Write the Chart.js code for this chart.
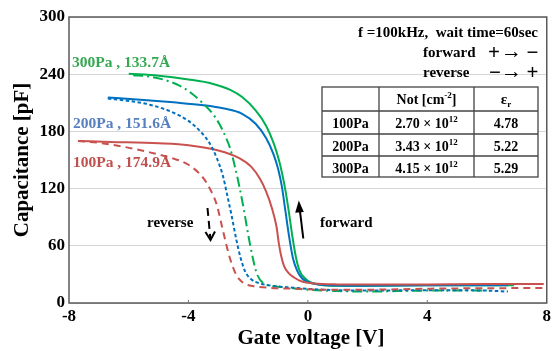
<!DOCTYPE html>
<html><head><meta charset="utf-8">
<script src="https://cdn.jsdelivr.net/npm/chart.js@4.4.1/dist/chart.umd.min.js"></script>
<style>html,body{margin:0;padding:0;background:#fff;}canvas{display:block;}</style>
</head><body>
<canvas id="c" width="554" height="351"></canvas>
<script>
// ---- data ----
const xTicks = [-8, -4, 0, 4, 8];
const yTicks = [0, 60, 120, 180, 240, 300];

// 100Pa forward (solid)
const fwd100V = [-7.7, -6.6, -5, -4, -3, -2.3, -1.9, -1.6, -1.4, -1.2, -1.05, -0.97, -0.9, -0.8, -0.65, -0.45, -0.2, 0.2, 1, 2, 4, 6, 7.9];
const fwd100C = [170, 169, 167.5, 165.5, 160, 152, 143, 130, 117, 99, 80, 62, 50, 39, 31.5, 26.5, 22.5, 20.5, 19.5, 19.3, 19.5, 19.8, 19.8];
// 100Pa reverse (dashed)
const rev100V = [-7.7, -7, -6.1, -5.3, -4.6, -4, -3.5, -3.25, -3.05, -2.86, -2.63, -2.45, -2.3, -2.1, -1.8, -1.3, -0.5, 0.5, 2, 4, 6, 7.9];
const rev100C = [170, 168, 163.5, 158, 152.5, 145, 131, 118, 103, 78, 49, 33, 25, 20, 17.5, 16, 15, 14, 14, 15, 15.5, 15.7];

// 200Pa forward (solid)
const fwd200V = [-6.7, -5.5, -4.5, -3.5, -2.8, -2.2, -1.75, -1.4, -1.15, -1.0, -0.87, -0.75, -0.62, -0.5, -0.36, -0.2, 0, 0.4, 1, 2, 4, 6, 6.7];
const fwd200C = [215.5, 213, 210.5, 207.5, 204, 198.5, 188, 173, 156, 141, 122, 96, 68, 47, 34, 26, 22, 19.5, 18.3, 18, 18.5, 18.5, 18.5];
// 200Pa reverse (short dash)
const rev200V = [-6.7, -6, -5.3, -4.6, -4, -3.6, -3.3, -3.05, -2.85, -2.7, -2.55, -2.4, -2.25, -2.1, -1.9, -1.6, -1.3, -0.5, 0.5, 2, 4, 6, 6.7];
const rev200C = [214.5, 212, 208, 201, 191, 180, 168, 152, 134, 113, 91, 67, 47, 33, 25, 20.5, 18.5, 16, 14, 13, 13.5, 13, 12];

// 300Pa forward (solid)
const fwd300V = [-6.0, -5, -4, -3.2, -2.6, -2.2, -1.75, -1.4, -1.15, -0.97, -0.85, -0.74, -0.63, -0.52, -0.4, -0.28, -0.1, 0.1, 0.4, 1, 2, 4, 6, 6.9];
const fwd300C = [240.5, 238.5, 234.5, 230, 223.5, 216, 202, 186, 168, 150, 134, 116, 94, 70, 48, 34, 26, 21.5, 19, 18, 18, 18.5, 18.5, 18.5];
// 300Pa reverse (dash-dot)
const rev300V = [-5.85, -5.3, -4.8, -4.3, -3.9, -3.5, -3.2, -2.95, -2.75, -2.6, -2.45, -2.3, -2.15, -2.0, -1.85, -1.7, -1.5, -1.2, -0.8, 0, 1, 2, 4, 6];
const rev300C = [239, 237.5, 234, 228, 220, 209, 199, 187, 174, 162, 144, 123, 99, 72, 48, 30, 21, 18, 16.5, 14, 12.5, 12, 13, 13];

const seriesLabels = ['100Pa , 174.9\u00C5', '200Pa , 151.6\u00C5', '300Pa , 133.7\u00C5'];
const tableRows = ['100Pa', '200Pa', '300Pa'];
const tableNot = ['2.70', '3.43', '4.15'];
const tableNotExp = ['12', '12', '12'];
const tableEps = ['4.78', '5.22', '5.29'];
const condText = 'f =100kHz,  wait time=60sec';
const xTitle = 'Gate voltage [V]';
const yTitle = 'Capacitance [pF]';

// ---- styling ----
const FONT = "'Liberation Serif','Times New Roman',serif";
const RED = '#c9524f', BLUE = '#0070c0', GREEN = '#00b050';
const zip = (v, c) => v.map((x, i) => ({x, y: c[i]}));

function ds(v, c, color, dash) {
  return {data: zip(v, c), borderColor: color, borderWidth: 2, borderDash: dash,
    pointRadius: 0, fill: false, cubicInterpolationMode: 'monotone'};
}

function supText(ctx, parts, cx, cy) {
  let w = 0;
  parts.forEach(p => { ctx.font = 'bold ' + p[1] + 'px ' + FONT; w += ctx.measureText(p[0]).width; });
  let x = cx - w / 2;
  ctx.textAlign = 'left';
  parts.forEach(p => { ctx.font = 'bold ' + p[1] + 'px ' + FONT; ctx.fillText(p[0], x, cy + p[2]); x += ctx.measureText(p[0]).width; });
}

const annot = {
  id: 'annot',
  afterDraw(chart) {
    const {ctx, chartArea: a, scales: {x, y}} = chart;
    ctx.save();
    // frame
    ctx.strokeStyle = '#5a5a5a'; ctx.lineWidth = 1.5;
    ctx.strokeRect(a.left, a.top, a.right - a.left, a.bottom - a.top);
    // small inner ticks
    ctx.lineWidth = 1; ctx.strokeStyle = '#777';
    xTicks.slice(1, -1).forEach(v => { const px = x.getPixelForValue(v); ctx.beginPath(); ctx.moveTo(px, a.bottom); ctx.lineTo(px, a.bottom - 3); ctx.stroke(); });

    // axis titles
    ctx.fillStyle = '#000'; ctx.textBaseline = 'middle'; ctx.textAlign = 'center';
    ctx.font = 'bold 21px ' + FONT;
    ctx.fillText(xTitle, 311, 339);
    ctx.save(); ctx.translate(23, 160); ctx.rotate(-Math.PI / 2); ctx.fillText(yTitle, 0, 0); ctx.restore();

    // series labels
    ctx.textBaseline = 'alphabetic'; ctx.textAlign = 'left';
    ctx.font = 'bold 15.5px ' + FONT;
    ctx.fillStyle = '#36a852'; ctx.fillText(seriesLabels[2], 72, 67);
    ctx.fillStyle = '#5680c0'; ctx.fillText(seriesLabels[1], 73, 127.5);
    ctx.fillStyle = '#c0504d'; ctx.fillText(seriesLabels[0], 73, 167);

    // condition text
    ctx.fillStyle = '#000';
    ctx.font = 'bold 15px ' + FONT; ctx.textAlign = 'right';
    ctx.fillText(condText, 538, 37);
    ctx.textAlign = 'left';
    ctx.fillText('forward', 423, 57);
    ctx.fillText('reverse', 423, 77);
    ctx.textAlign = 'center'; ctx.textBaseline = 'middle';
    const sym = (s, cx, cy, sz, w) => { ctx.font = (w || 'bold') + ' ' + sz + 'px ' + FONT; ctx.fillText(s, cx, cy); };
    sym('+', 494, 53.5, 21); sym('\u2192', 511.5, 52, 21, 'normal'); sym('\u2212', 532.5, 53.5, 21);
    sym('\u2212', 495, 73.5, 21); sym('\u2192', 511.5, 72, 21, 'normal'); sym('+', 532.5, 73.5, 21);

    // table
    const cx = [322, 379, 474, 538], cy = [87, 111, 134, 156, 177];
    ctx.fillStyle = '#fff'; ctx.fillRect(cx[0], cy[0], cx[3] - cx[0], cy[4] - cy[0]);
    ctx.strokeStyle = '#444'; ctx.lineWidth = 1.3;
    ctx.strokeRect(cx[0], cy[0], cx[3] - cx[0], cy[4] - cy[0]);
    ctx.beginPath();
    cx.slice(1, 3).forEach(v => { ctx.moveTo(v, cy[0]); ctx.lineTo(v, cy[4]); });
    cy.slice(1, 4).forEach(v => { ctx.moveTo(cx[0], v); ctx.lineTo(cx[3], v); });
    ctx.stroke();
    ctx.fillStyle = '#000'; ctx.textBaseline = 'alphabetic';
    const mid = (i) => (cx[i] + cx[i + 1]) / 2;
    supText(ctx, [['Not [cm', 14, 0], ['-2', 9, -6], [']', 14, 0]], mid(1), 104);
    supText(ctx, [['\u03B5', 15, 0], ['r', 9, 3]], mid(2), 104);
    for (let r = 0; r < 3; r++) {
      const by = cy[r + 1] + 16.5;
      supText(ctx, [[tableRows[r], 14, 0]], mid(0), by);
      supText(ctx, [[tableNot[r] + ' \u00D7 10', 14, 0], [tableNotExp[r], 9, -6]], mid(1), by);
      supText(ctx, [[tableEps[r], 14, 0]], mid(2), by);
    }

    // reverse / forward annotations
    ctx.font = 'bold 15px ' + FONT; ctx.textAlign = 'left';
    ctx.fillText('reverse', 147, 227);
    ctx.fillText('forward', 320, 227);
    // dashed arrow (down)
    ctx.strokeStyle = '#000'; ctx.lineWidth = 2;
    ctx.setLineDash([8, 5]);
    ctx.beginPath(); ctx.moveTo(207.5, 208); ctx.lineTo(210.3, 238); ctx.stroke();
    ctx.setLineDash([]);
    ctx.beginPath(); ctx.moveTo(205.5, 232); ctx.lineTo(210.5, 240); ctx.lineTo(215, 231.5); ctx.stroke();
    // solid arrow (up)
    ctx.beginPath(); ctx.moveTo(303.3, 238.5); ctx.lineTo(299.6, 208); ctx.stroke();
    ctx.fillStyle = '#000';
    ctx.beginPath(); ctx.moveTo(298.8, 200.5); ctx.lineTo(303.8, 212); ctx.lineTo(295.2, 212.8); ctx.closePath(); ctx.fill();
    ctx.restore();
  }
};

new Chart(document.getElementById('c'), {
  type: 'line',
  data: {
    datasets: [
      ds(rev100V, rev100C, RED, [7, 5]),
      ds(rev200V, rev200C, BLUE, [3.5, 2.5]),
      ds(rev300V, rev300C, GREEN, [10, 4, 2, 4]),
      ds(fwd100V, fwd100C, RED, []),
      ds(fwd200V, fwd200C, BLUE, []),
      ds(fwd300V, fwd300C, GREEN, [])
    ]
  },
  options: {
    responsive: false, animation: false, devicePixelRatio: 1,
    layout: {padding: {top: 17, right: 5, left: 0, bottom: 0}},
    plugins: {legend: {display: false}, tooltip: {enabled: false}},
    scales: {
      x: {
        type: 'linear', min: -8, max: 8,
        afterBuildTicks: s => { s.ticks = xTicks.map(v => ({value: v})); },
        afterFit: s => { s.height = 48; },
        grid: {display: false, drawTicks: false},
        border: {display: false},
        ticks: {color: '#000', padding: 3, font: {family: FONT, size: 17, weight: 'bold'}}
      },
      y: {
        min: 0, max: 300,
        afterBuildTicks: s => { s.ticks = yTicks.map(v => ({value: v})); },
        afterFit: s => { s.width = 69; },
        grid: {color: '#d6d6d6', lineWidth: 1, drawTicks: false},
        border: {display: false},
        ticks: {color: '#000', padding: 4, font: {family: FONT, size: 17, weight: 'bold'}}
      }
    }
  },
  plugins: [annot]
});
</script>
</body></html>
